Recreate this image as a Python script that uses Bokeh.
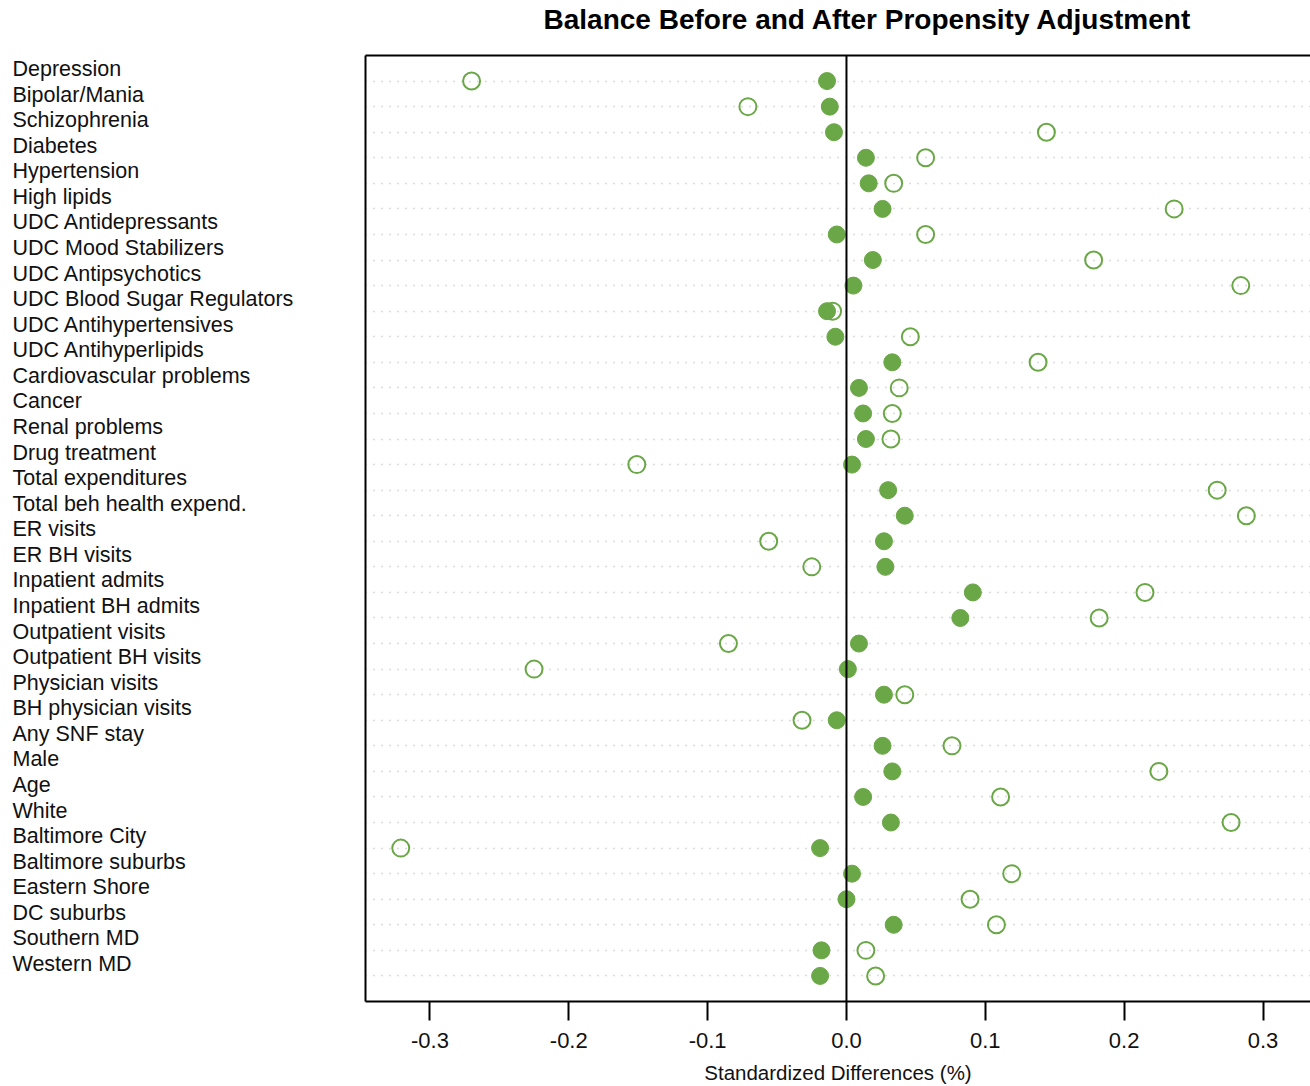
from bokeh.plotting import figure
from bokeh.models import Range1d, FixedTicker, LinearAxis, Span, ColumnDataSource, Grid
from bokeh.layouts import row
from bokeh.embed import file_html
from bokeh.resources import INLINE
from bokeh.core.properties import value

categories = [
    "Depression", "Bipolar/Mania", "Schizophrenia", "Diabetes", "Hypertension",
    "High lipids", "UDC Antidepressants", "UDC Mood Stabilizers", "UDC Antipsychotics",
    "UDC Blood Sugar Regulators", "UDC Antihypertensives", "UDC Antihyperlipids",
    "Cardiovascular problems", "Cancer", "Renal problems", "Drug treatment",
    "Total expenditures", "Total beh health expend.", "ER visits", "ER BH visits",
    "Inpatient admits", "Inpatient BH admits", "Outpatient visits", "Outpatient BH visits",
    "Physician visits", "BH physician visits", "Any SNF stay", "Male", "Age", "White",
    "Baltimore City", "Baltimore suburbs", "Eastern Shore", "DC suburbs", "Southern MD",
    "Western MD",
]
before = [
    -0.270, -0.071, 0.144, 0.057, 0.034, 0.236, 0.057, 0.178, 0.284, -0.010,
    0.046, 0.138, 0.038, 0.033, 0.032, -0.151, 0.267, 0.288, -0.056, -0.025,
    0.215, 0.182, -0.085, -0.225, 0.042, -0.032, 0.076, 0.225, 0.111, 0.277,
    -0.321, 0.119, 0.089, 0.108, 0.014, 0.021,
]
after = [
    -0.014, -0.012, -0.009, 0.014, 0.016, 0.026, -0.007, 0.019, 0.005, -0.014,
    -0.008, 0.033, 0.009, 0.012, 0.014, 0.004, 0.030, 0.042, 0.027, 0.028,
    0.091, 0.082, 0.009, 0.001, 0.027, -0.007, 0.026, 0.033, 0.012, 0.032,
    -0.019, 0.004, 0.000, 0.034, -0.018, -0.019,
]
x_ticks = [-0.3, -0.2, -0.1, 0.0, 0.1, 0.2, 0.3]
x_tick_labels = ["-0.3", "-0.2", "-0.1", "0.0", "0.1", "0.2", "0.3"]
title_text = "Balance Before and After Propensity Adjustment"
x_label = "Standardized Differences (%)"

n = len(categories)
ypos = [n - i for i in range(n)]
src = ColumnDataSource(dict(cat=categories, y=ypos, before=before, after=after))

FONT = "Liberation Sans"
GREEN = "#6aa746"
H = 1086
TOP = 55
BOT = 85

p = figure(width=955, height=H, x_range=Range1d(-0.3464, 0.3342), y_range=Range1d(0, n + 1),
           output_backend="svg", toolbar_location=None,
           min_border_left=10, min_border_right=0, min_border_top=TOP, min_border_bottom=BOT,
           x_axis_location=None, y_axis_location=None, title=title_text)
p.grid.visible = False
p.outline_line_color = None
p.background_fill_color = "white"
p.border_fill_color = "white"

p.title.text_font = FONT
p.title.text_font_size = "28px"
p.title.text_font_style = "bold"
p.title.align = "left"
p.title.offset = 178
p.title.standoff = 2
p.title.text_color = "black"

xaxis = LinearAxis(ticker=FixedTicker(ticks=x_ticks),
                   major_label_overrides=dict(zip(x_ticks, x_tick_labels)))
xaxis.axis_label = x_label
xaxis.axis_line_width = 2
xaxis.axis_line_color = "black"
xaxis.major_tick_out = 19
xaxis.major_tick_in = 0
xaxis.major_tick_line_width = 2
xaxis.major_tick_line_color = "black"
xaxis.minor_tick_out = 0
xaxis.minor_tick_in = 0
xaxis.major_label_standoff = 12
xaxis.major_label_text_font = FONT
xaxis.major_label_text_font_size = "22px"
xaxis.major_label_text_color = "#111111"
xaxis.axis_label_standoff = 10
xaxis.axis_label_text_font = FONT
xaxis.axis_label_text_font_size = "20.5px"
xaxis.axis_label_text_font_style = "normal"
xaxis.axis_label_text_color = "#111111"
p.add_layout(xaxis, "below")

# left and top border lines of the frame; the top one carries invisible
# ticks that reserve a little space below the title
lax = LinearAxis(ticker=FixedTicker(ticks=[]))
tax = LinearAxis(ticker=FixedTicker(ticks=x_ticks))
for ax in (lax, tax):
    ax.axis_line_width = 2
    ax.axis_line_color = "black"
    ax.major_tick_in = 0
    ax.minor_tick_out = 0
    ax.minor_tick_in = 0
    ax.major_label_standoff = 0
    ax.major_label_text_font_size = "0px"
    ax.major_label_text_color = None
    ax.major_tick_line_color = None
lax.major_tick_out = 0
tax.major_tick_out = 20
p.add_layout(lax, "left")
p.add_layout(tax, "above")

grid = Grid(dimension=1, ticker=FixedTicker(ticks=ypos))
grid.grid_line_color = "#b8b8b8"
grid.grid_line_dash = "1 7"
grid.grid_line_width = 1.5
p.add_layout(grid)

p.scatter("before", "y", source=src, size=17, fill_color=None, line_color=GREEN, line_width=2)
p.scatter("after", "y", source=src, size=17, fill_color=GREEN, line_color=GREEN, line_width=1)
p.add_layout(Span(location=0, dimension="height", line_color="black", line_width=2))

lf = figure(width=355, height=H, x_range=Range1d(-12, 343), y_range=p.y_range,
            output_backend="svg", toolbar_location=None,
            min_border_left=0, min_border_right=0, min_border_top=TOP, min_border_bottom=BOT,
            x_axis_location=None, y_axis_location=None)
lf.grid.visible = False
lf.outline_line_color = None
lf.text(x=0, y="y", text="cat", source=src, text_font=value(FONT), text_font_size="21.5px",
        text_baseline="middle", text_align="left", y_offset=-12, text_color="#111111")

layout = row(lf, p)
open("out.html", "w").write(file_html(layout, INLINE))
